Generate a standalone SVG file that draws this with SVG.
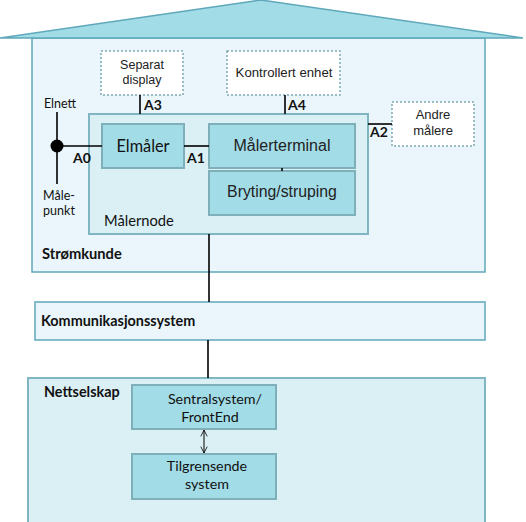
<svg xmlns="http://www.w3.org/2000/svg" width="526" height="522" viewBox="0 0 526 522">
<defs>
<style>
.house{fill:#EAF6FB;stroke:#5FA8BA;stroke-width:1.5}
.light{fill:#DAF0F5;stroke:#7FB6C1;stroke-width:2}
.box{fill:#A2DCE7;stroke:#7FAFB9;stroke-width:2}
.dash{fill:#FFFFFF;stroke:#7FA9B3;stroke-width:1.5;stroke-dasharray:2 2}
.ln{stroke:#000;stroke-width:1.6;fill:none}
.ar{font-family:"Liberation Sans",Arial,sans-serif;fill:#222;text-anchor:middle}
.ca{font-family:Lato,"Open Sans",sans-serif;fill:#111}
.b{font-weight:bold}
</style>
<marker id="ah" viewBox="0 0 10 10" refX="9" refY="5" markerWidth="8" markerHeight="8" orient="auto-start-reverse" markerUnits="userSpaceOnUse">
<path d="M1,1 L9,5 L1,9" fill="none" stroke="#000" stroke-width="1"/>
</marker>
</defs>

<g id="house">
<rect class="house" x="32" y="38" width="453" height="234"/>
<polygon points="0,38 261,0 523,38" fill="#A2DCE7" stroke="#5FA8BA" stroke-width="1.5"/>
<text class="ca b" x="42" y="259" font-size="14.7">Strømkunde</text>
</g>

<g id="malernode">
<rect class="light" x="89" y="114" width="279" height="120"/>
<text class="ca" x="104" y="226" font-size="14.7">Målernode</text>
</g>

<g id="elmaler">
<rect class="box" x="102" y="124" width="82" height="44"/>
<text class="ca" x="143" y="152" font-size="16.3" text-anchor="middle">Elmåler</text>
</g>

<g id="malerterminal">
<rect class="box" x="209" y="124" width="146" height="44"/>
<text class="ar" x="282" y="151" font-size="16">Målerterminal</text>
</g>

<g id="bryting">
<rect class="box" x="209" y="171" width="146" height="44"/>
<text class="ar" x="282" y="197" font-size="15.8">Bryting/struping</text>
</g>

<g id="separat">
<rect class="dash" x="101" y="51" width="82" height="44"/>
<text class="ar" x="142" y="69" font-size="12.5">Separat</text>
<text class="ar" x="142" y="84" font-size="12.5">display</text>
</g>

<g id="kontrollert">
<rect class="dash" x="227" y="51" width="113" height="44"/>
<text class="ar" x="284" y="77" font-size="13.2">Kontrollert enhet</text>
</g>

<g id="andre">
<rect class="dash" x="392" y="102" width="82" height="44"/>
<text class="ar" x="433" y="119" font-size="13">Andre</text>
<text class="ar" x="433" y="135" font-size="13">målere</text>
</g>

<g id="malepunkt">
<circle cx="57" cy="146" r="6.5" fill="#000"/>
<text class="ca" x="60" y="108" font-size="12.5" text-anchor="middle">Elnett</text>
<text class="ca" x="59" y="200" font-size="12.5" text-anchor="middle">Måle-</text>
<text class="ca" x="59" y="215" font-size="12.5" text-anchor="middle">punkt</text>
</g>

<g id="komm">
<rect class="house" x="35" y="302" width="450" height="38"/>
<text class="ca b" x="41" y="326" font-size="14.4">Kommunikasjonssystem</text>
</g>

<g id="nettselskap">
<rect class="light" x="28" y="378" width="457" height="150"/>
<text class="ca b" x="44" y="397" font-size="14.4">Nettselskap</text>
</g>

<g id="sentral">
<rect class="box" x="132" y="385" width="144" height="44"/>
<text class="ca" x="215" y="404" font-size="14.3" text-anchor="middle">Sentralsystem/</text>
<text class="ca" x="210" y="422" font-size="14.3" text-anchor="middle">FrontEnd</text>
</g>

<g id="tilgrensende">
<rect class="box" x="132" y="454" width="144" height="45"/>
<text class="ca" x="207" y="471" font-size="14.3" text-anchor="middle">Tilgrensende</text>
<text class="ca" x="207" y="489" font-size="14.3" text-anchor="middle">system</text>
</g>

<g id="connectors">
<line class="ln" x1="57" y1="112" x2="57" y2="184"/>
<line class="ln" x1="57" y1="146" x2="102" y2="146"/>
<line class="ln" x1="184" y1="146" x2="209" y2="146"/>
<line class="ln" x1="140" y1="95" x2="140" y2="114"/>
<line class="ln" x1="285" y1="95" x2="285" y2="114"/>
<line class="ln" x1="368" y1="124" x2="392" y2="124"/>
<line class="ln" x1="282" y1="168" x2="282" y2="171"/>
<line class="ln" x1="209" y1="234" x2="209" y2="302"/>
<line class="ln" x1="208" y1="340" x2="208" y2="378"/>
<line stroke="#000" stroke-width="1" x1="204" y1="430" x2="204" y2="453" marker-start="url(#ah)" marker-end="url(#ah)"/>
<text class="ca b" x="73" y="163" font-size="14">A0</text>
<text class="ca b" x="187" y="163" font-size="14">A1</text>
<text class="ca b" x="370" y="137" font-size="14">A2</text>
<text class="ca b" x="144" y="110" font-size="14">A3</text>
<text class="ca b" x="288" y="110" font-size="14">A4</text>
</g>
</svg>
